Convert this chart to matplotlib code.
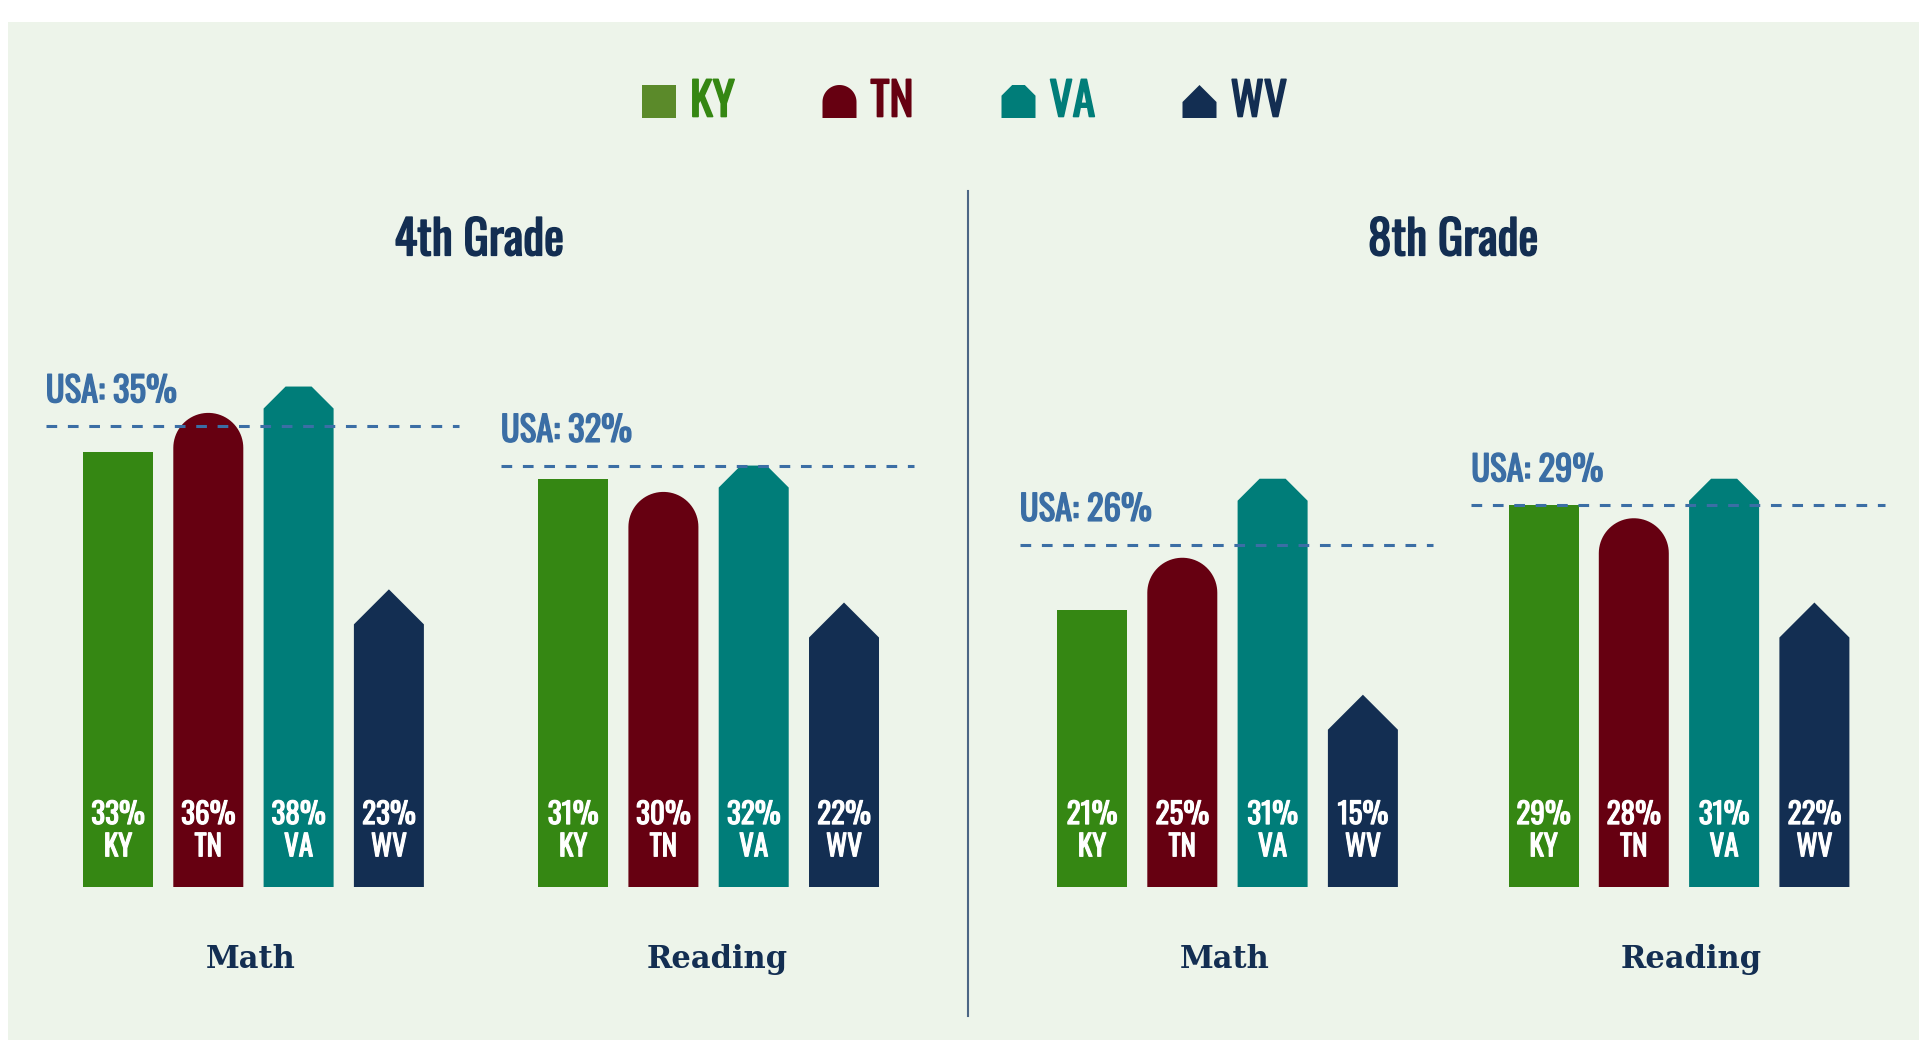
import numpy as np
import matplotlib.pyplot as plt
from matplotlib import font_manager
from matplotlib import patheffects as pe
from matplotlib.patches import Polygon, Rectangle
from matplotlib.lines import Line2D

states = ['KY', 'TN', 'VA', 'WV']
colors = ['#358713', '#660011', '#007D79', '#132E52']
legend_colors = ['#5B8A2A', '#660011', '#007D79', '#132E52']
shapes = ['square', 'dome', 'chamfer', 'house']

grades = ['4th Grade', '8th Grade']
subjects = ['Math', 'Reading']
math_4 = [33, 36, 38, 23]
reading_4 = [31, 30, 32, 22]
math_8 = [21, 25, 31, 15]
reading_8 = [29, 28, 31, 22]
usa_4 = [35, 32]
usa_8 = [26, 29]

NAVY = '#132E52'
USA_BLUE = '#3B6EA5'
BG = '#EDF4EA'

names = {f.name for f in font_manager.fontManager.ttflist}
cond = 'DejaVu Sans'
for cand in ['Oswald', 'Roboto Condensed', 'Liberation Sans Narrow', 'DejaVu Sans Condensed']:
    if cand in names:
        cond = cand
        break
serif = 'DejaVu Serif'


def bold(color, w):
    # thicken the condensed face, which is only installed in a regular weight
    return [pe.withStroke(linewidth=w, foreground=color)]


W, H = 1919, 1062
fig = plt.figure(figsize=(W / 100, H / 100), dpi=100)
fig.patch.set_facecolor('white')
fig.patches.append(Rectangle((8 / W, 1 - 1040 / H), 1 - 8 / W, (1040 - 22) / H,
                             transform=fig.transFigure, facecolor=BG, edgecolor='none', zorder=-5))

PX_X = 90.3   # pixels per bar slot
PX_Y = 13.17  # pixels per percent
BAR_W = 70 / PX_X


def shape_pts(kind, xc, top, hw, rx, ry, tip_drop=0.0):
    # rx, ry: pixels per data unit; hw: half width in data x
    if kind == 'square':
        return [(xc - hw, 0), (xc - hw, top), (xc + hw, top), (xc + hw, 0)]
    if kind == 'dome':
        r_y = hw * rx / ry
        t = np.linspace(np.pi, 0, 40)
        arc = [(xc + hw * np.cos(a), top - r_y + r_y * np.sin(a)) for a in t]
        return [(xc - hw, 0)] + arc + [(xc + hw, 0)]
    if kind == 'chamfer':
        c = 22 / 35 * hw
        cy = c * rx / ry
        return [(xc - hw, 0), (xc - hw, top - cy), (xc - hw + c, top),
                (xc + hw - c, top), (xc + hw, top - cy), (xc + hw, 0)]
    top = top - tip_drop
    hy = hw * rx / ry
    return [(xc - hw, 0), (xc - hw, top - hy), (xc, top), (xc + hw, top - hy), (xc + hw, 0)]


panels = [(grades[0], [math_4, reading_4], usa_4, 118, [0, 5.04]),
          (grades[1], [math_8, reading_8], usa_8, 1092, [0, 5.0])]

for title, groups, usa, first_px, starts in panels:
    left_px = first_px - PX_X
    ax = fig.add_axes([left_px / W, (H - 887) / H, 10 * PX_X / W, 45 * PX_Y / H])
    ax.set_xlim(-1, 9)
    ax.set_ylim(0, 45)
    ax.axis('off')
    for g, vals in enumerate(groups):
        start = starts[g]
        for i, v in enumerate(vals):
            xc = start + i
            pts = shape_pts(shapes[i], xc, v, BAR_W / 2, PX_X, PX_Y, tip_drop=0.4)
            ax.add_patch(Polygon(pts, closed=True, facecolor=colors[i], edgecolor='none', zorder=2))
            ax.text(xc, 5.5, f'{v}%', color='white', fontsize=21, family=cond,
                    ha='center', va='center', zorder=4, path_effects=bold('white', 0.8))
            ax.text(xc, 3.05, states[i], color='white', fontsize=21, family=cond,
                    ha='center', va='center', zorder=4, path_effects=bold('white', 0.8))
        x0, x1 = start - 0.8, start + 3.78
        ax.plot([x0, x1], [usa[g], usa[g]], color=USA_BLUE, lw=2.2, dashes=(3.5, 3.5), zorder=3)
        ax.text(x0, usa[g] + 1.8, f'USA: {usa[g]}%', color=USA_BLUE, fontsize=25,
                family=cond, ha='left', va='baseline', clip_on=False,
                path_effects=bold(USA_BLUE, 1.0))
        ax.text([1.47, 6.63][g], -5.5, subjects[g], color=NAVY, fontsize=22,
                fontweight='bold', family=serif, ha='center', va='center', clip_on=False)
    ax.text(4, 49.1, title, color=NAVY, fontsize=34, family=cond,
            ha='center', va='center', clip_on=False, path_effects=bold(NAVY, 1.1))

# divider
fig.lines.append(Line2D([968 / W, 968 / W], [1 - 191 / H, 1 - 1016 / H],
                        transform=fig.transFigure, color='#4C6685', lw=1.5))

# legend
lax = fig.add_axes([0, 0, 1, 1])
lax.set_xlim(0, W)
lax.set_ylim(H, 0)
lax.axis('off')
leg_x = [659, 839.5, 1018.5, 1199.5]
for i, s in enumerate(states):
    pts = shape_pts(shapes[i], leg_x[i], 33, 17, 1, 1)
    pts = [(x, 118 - y) for x, y in pts]
    lax.add_patch(Polygon(pts, closed=True, facecolor=legend_colors[i], edgecolor='none'))
    lax.text(leg_x[i] + 31, 102, s, color=colors[i], fontsize=33, family=cond,
             ha='left', va='center', path_effects=bold(colors[i], 1.2))

fig.savefig('out.png', dpi=100, facecolor='white')
